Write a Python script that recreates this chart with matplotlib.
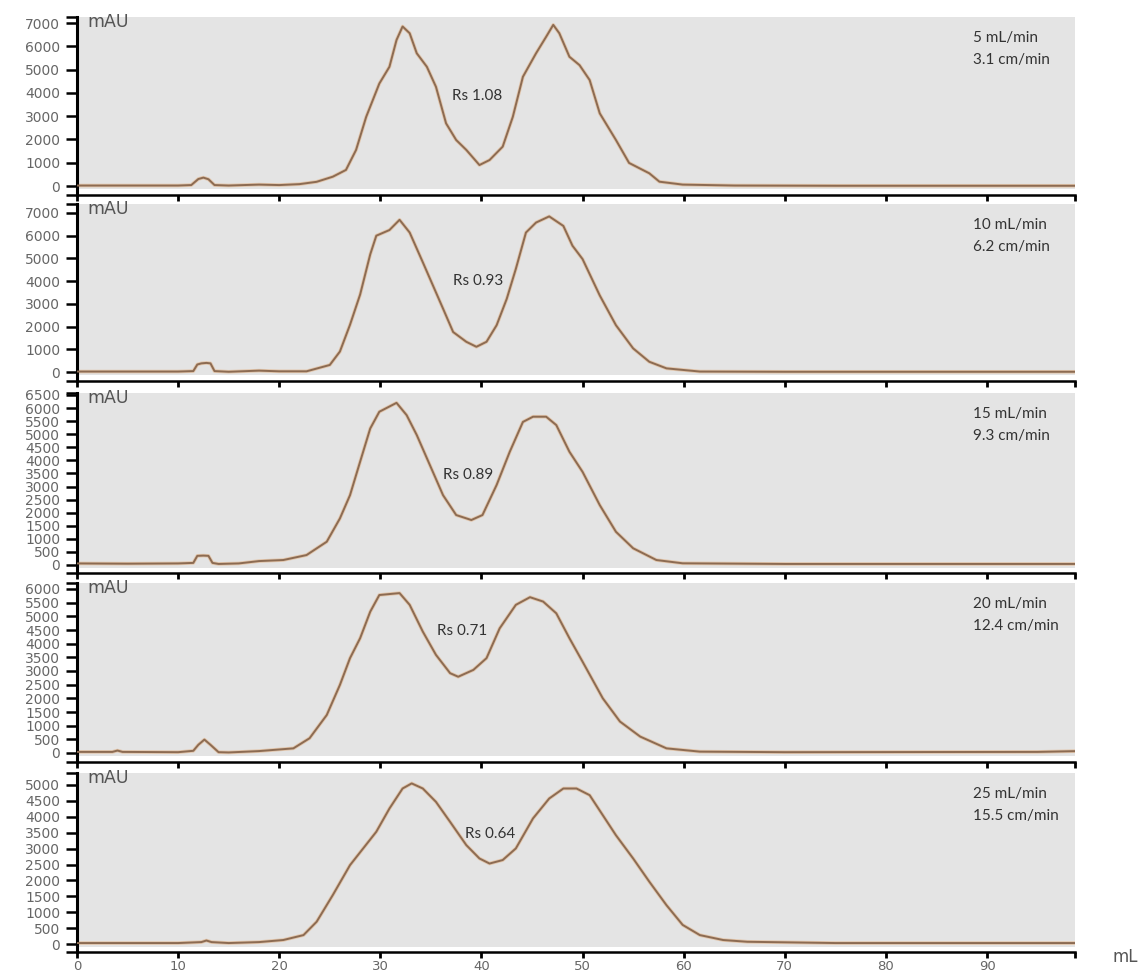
import numpy as np
import matplotlib.pyplot as plt

# elution volume (mL) and absorbance (mAU)
x_5 = [0, 10, 11.3, 12.0, 12.5, 13.0, 13.6, 15, 18, 20, 22.0, 23.7, 25.3, 26.6, 27.6, 28.6,
       29.9, 30.9, 31.6, 32.2, 32.9, 33.6, 34.6, 35.5, 36.5, 37.5, 38.5, 39.8, 40.8, 42.1,
       43.1, 44.1, 45.4, 46.4, 47.1, 47.7, 48.7, 49.7, 50.7, 51.7, 53.3, 54.6, 56.6, 57.6,
       59.9, 65, 75, 99]
y_5 = [20, 20, 40, 300, 360, 290, 40, 20, 60, 40, 80, 180, 400, 690, 1550, 2970,
       4400, 5120, 6270, 6850, 6560, 5700, 5120, 4260, 2690, 1975, 1550, 900, 1115, 1690,
       2970, 4690, 5700, 6410, 6920, 6560, 5550, 5190, 4550, 3120, 1975, 990, 545, 185,
       60, 20, 10, 10]

x_10 = [0, 10, 11.5, 11.9, 12.3, 12.8, 13.2, 13.6, 15, 18, 20, 22.7, 25.0, 26.0, 27.0, 28.0,
        29.0, 29.6, 30.9, 31.9, 32.9, 34.2, 35.2, 36.2, 37.2, 38.5, 39.5, 40.5, 41.5, 42.5,
        43.4, 44.4, 45.4, 46.7, 48.1, 49.0, 50.0, 51.7, 53.3, 55.0, 56.6, 58.3, 61.6, 70, 99]
y_10 = [20, 20, 40, 330, 380, 400, 380, 40, 10, 60, 30, 30, 310, 900, 2080, 3410,
        5180, 6000, 6250, 6700, 6140, 4830, 3810, 2790, 1760, 1330, 1110, 1330, 2060, 3220,
        4540, 6140, 6580, 6850, 6430, 5560, 4970, 3370, 2060, 1040, 450, 160, 20, 10, 10]

x_15 = [0, 5, 10, 11.5, 11.9, 12.5, 13.0, 13.4, 14, 16, 18, 20.4, 22.7, 24.7, 26.0, 27.0,
        28.0, 29.0, 29.9, 31.6, 32.6, 33.6, 34.9, 36.2, 37.5, 39.0, 40.1, 41.5, 42.8, 44.1,
        45.1, 46.4, 47.4, 48.7, 50.0, 51.7, 53.3, 55.0, 57.3, 59.9, 70, 99]
y_15 = [60, 50, 60, 80, 350, 360, 350, 80, 40, 60, 150, 190, 380, 890, 1780, 2670,
        3950, 5220, 5860, 6200, 5730, 4970, 3820, 2670, 1910, 1720, 1910, 3060, 4330, 5470,
        5670, 5670, 5350, 4330, 3560, 2290, 1270, 640, 190, 65, 40, 40]

x_20 = [0, 3.5, 4, 4.5, 10, 11.5, 12.0, 12.6, 13.2, 14, 15, 18, 21.4, 23.0, 24.7, 26.0,
        27.0, 28.0, 29.0, 29.9, 31.9, 32.9, 34.2, 35.5, 36.9, 37.7, 39.2, 40.5, 41.8, 43.4,
        44.8, 46.1, 47.4, 48.7, 50.0, 52.0, 53.7, 55.7, 58.3, 61.6, 70, 95, 99]
y_20 = [40, 40, 90, 40, 30, 80, 300, 490, 300, 30, 20, 70, 170, 540, 1390, 2490,
        3470, 4200, 5170, 5780, 5850, 5420, 4440, 3590, 2920, 2790, 3040, 3470, 4560, 5420,
        5700, 5540, 5110, 4200, 3340, 2000, 1150, 600, 170, 50, 30, 40, 70]

x_25 = [0, 10, 12.3, 12.8, 13.3, 15, 18, 20.4, 22.4, 23.7, 25.3, 27.0, 28.3, 29.6, 30.9,
        32.2, 33.1, 34.2, 35.5, 36.9, 38.5, 39.8, 40.8, 42.1, 43.4, 45.1, 46.7, 48.1, 49.4,
        50.7, 52.0, 53.3, 55.0, 56.6, 58.3, 59.9, 61.6, 63.9, 66.3, 75, 99]
y_25 = [30, 30, 60, 110, 60, 30, 60, 125, 280, 700, 1540, 2480, 3005, 3530, 4260,
        4890, 5050, 4890, 4470, 3840, 3110, 2690, 2530, 2640, 3005, 3950, 4575, 4890, 4890,
        4680, 4050, 3420, 2690, 1960, 1220, 600, 280, 125, 70, 30, 30]

flow_labels = ['5 mL/min\n3.1 cm/min', '10 mL/min\n6.2 cm/min', '15 mL/min\n9.3 cm/min',
               '20 mL/min\n12.4 cm/min', '25 mL/min\n15.5 cm/min']
rs_labels = ['Rs 1.08', 'Rs 0.93', 'Rs 0.89', 'Rs 0.71', 'Rs 0.64']
rs_pos = [(39.6, 3870), (39.7, 4020), (38.7, 3440), (38.1, 4460), (40.9, 3450)]
y_max_ticks = [7000, 7000, 6500, 6000, 5000]
y_steps = [1000, 1000, 500, 500, 500]

xs = [x_5, x_10, x_15, x_20, x_25]
ys = [y_5, y_10, y_15, y_20, y_25]

# pixel layout of each panel: axes top, axes bottom (spine), zero line, top tick pixel
layout = [(17, 195, 186, 23), (204, 381, 372, 213), (393, 573, 565, 395),
          (583, 762, 753, 589), (773, 952, 944, 785)]

W, H = 1144, 973
left_px, right_px = 77, 1075
x_end = 98.7

fig = plt.figure(figsize=(W / 100, H / 100), dpi=100)
line_color = '#8c6b52'
gray = '#e4e4e4'

for i in range(5):
    top, bot, zero, ttop = layout[i]
    upp = y_max_ticks[i] / (zero - ttop)
    ylo = -(bot - zero) * upp
    yhi = (zero - top) * upp
    ax = fig.add_axes([left_px / W, 1 - bot / H, (right_px - left_px) / W, (bot - top) / H])
    ax.set_facecolor('white')
    ax.set_xlim(0, x_end)
    ax.set_ylim(ylo, yhi)
    ax.axhspan(-3 * upp, yhi, color=gray, zorder=0, lw=0)

    ax.plot(xs[i], ys[i], color='#e2c6ac', lw=2.6, zorder=2, solid_joinstyle='round')
    ax.plot(xs[i], ys[i], color=line_color, lw=1.4, zorder=3, solid_joinstyle='round')

    for s in ['top', 'right']:
        ax.spines[s].set_visible(False)
    ax.spines['left'].set_linewidth(2.2)
    ax.spines['bottom'].set_linewidth(1.8)

    ax.set_yticks(np.arange(0, y_max_ticks[i] + 1, y_steps[i]))
    ax.set_yticks([ylo, yhi], minor=True)
    ax.tick_params(axis='y', which='both', direction='out', length=8, width=1.8,
                   colors='black', labelcolor='#666666', labelsize=10, pad=4)
    ax.set_xticks(list(range(0, 100, 10)) + [x_end])
    ax.tick_params(axis='x', direction='out', length=4, width=2, colors='black',
                   labelcolor='#666666', labelsize=9.5, pad=1.5)
    if i < 4:
        ax.set_xticklabels([])
    else:
        ax.set_xticklabels([str(v) for v in range(0, 100, 10)] + [''])

    ax.text(10 / 998, 1 + 4 / (bot - top), 'mAU', transform=ax.transAxes,
            ha='left', va='top', fontsize=12.5, color='#555555')
    ax.text(0.8975, 1 - 21 / (bot - top), flow_labels[i].split('\n')[0], transform=ax.transAxes,
            ha='left', va='center', fontsize=11, color='#333333', family='Lato')
    ax.text(0.8975, 1 - 43 / (bot - top), flow_labels[i].split('\n')[1], transform=ax.transAxes,
            ha='left', va='center', fontsize=11, color='#333333', family='Lato')
    ax.text(rs_pos[i][0], rs_pos[i][1], rs_labels[i], ha='center', va='center',
            fontsize=11, color='#333333', family='Lato', zorder=4)

fig.text(1125 / W, 1 - 957 / H, 'mL', ha='center', va='center', fontsize=12, color='#555555')

plt.savefig('out.png', dpi=100)
